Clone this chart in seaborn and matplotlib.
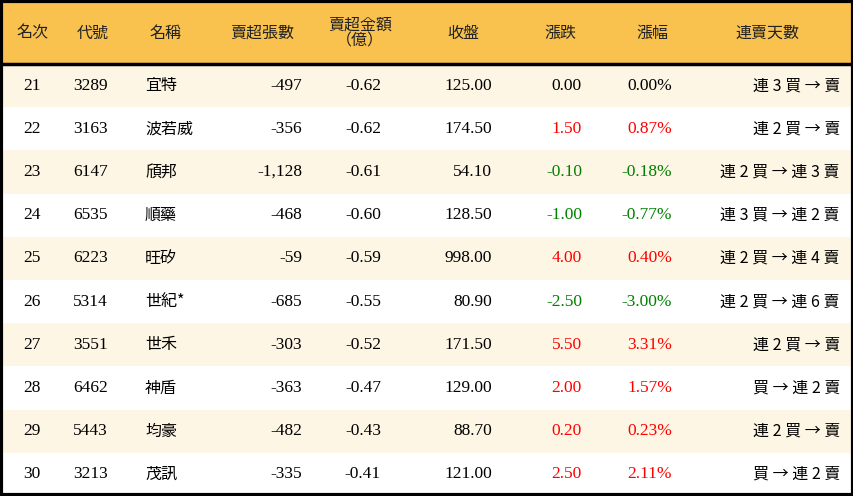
import numpy as np
import matplotlib.pyplot as plt
import seaborn as sns
from matplotlib.colors import ListedColormap
from matplotlib import font_manager

ranks = [21, 22, 23, 24, 25, 26, 27, 28, 29, 30]
codes = ["3289", "3163", "6147", "6535", "6223", "5314", "3551", "6462", "5443", "3213"]
names = ["宜特", "波若威", "頎邦", "順藥", "旺矽", "世紀*", "世禾", "神盾", "均豪", "茂訊"]
net_lots = [-497, -356, -1128, -468, -59, -685, -303, -363, -482, -335]
net_amount = [-0.62, -0.62, -0.61, -0.60, -0.59, -0.55, -0.52, -0.47, -0.43, -0.41]
close = [125.00, 174.50, 54.10, 128.50, 998.00, 80.90, 171.50, 129.00, 88.70, 121.00]
change = [0.00, 1.50, -0.10, -1.00, 4.00, -2.50, 5.50, 2.00, 0.20, 2.50]
pct = [0.00, 0.87, -0.18, -0.77, 0.40, -3.00, 3.31, 1.57, 0.23, 2.11]
streak = ["連 3 買 → 賣", "連 2 買 → 賣", "連 2 買 → 連 3 賣", "連 3 買 → 連 2 賣",
          "連 2 買 → 連 4 賣", "連 2 買 → 連 6 賣", "連 2 買 → 賣", "買 → 連 2 賣",
          "連 2 買 → 賣", "買 → 連 2 賣"]
headers = ["名次", "代號", "名稱", "賣超張數", "賣超金額\n（億）", "收盤", "漲跌", "漲幅", "連賣天數"]

W, H = 854, 496
HEAD = 64

# pick whichever CJK family matplotlib actually knows
known = {f.name for f in font_manager.fontManager.ttflist}
cands = ["Noto Sans CJK TC", "Noto Sans CJK JP", "Noto Sans CJK SC", "Noto Sans CJK KR"]
CJK = [c for c in cands if c in known] or ["DejaVu Sans"]
CJK = CJK + ["DejaVu Sans"]
NUM = "Liberation Serif"

fig = plt.figure(figsize=(W / 100, H / 100), dpi=100)

# row bands via seaborn heatmap
ax = fig.add_axes([0, 0, 1, (H - HEAD) / H])
bands = np.array([[i % 2] for i in range(len(ranks))])
sns.heatmap(bands, cmap=ListedColormap(["#FEF6E4", "#FFFFFF"]), cbar=False,
            xticklabels=False, yticklabels=False, ax=ax)
ax.set_xlim(0, 1)
ax.set_axis_off()

# overlay axes in pixel coordinates for header and text
ov = fig.add_axes([0, 0, 1, 1])
ov.set_xlim(0, W)
ov.set_ylim(H, 0)
ov.set_axis_off()
ov.patch.set_alpha(0)
ov.add_patch(plt.Rectangle((0, 0), W, HEAD, color="#F9C24F", zorder=0))
ov.plot([0, W], [HEAD, HEAD], color="black", lw=2.5)
ov.add_patch(plt.Rectangle((1, 1), W - 2, H - 2, fill=False, ec="black", lw=3))

hx = [32, 93, 165, 262, 360, 463, 560, 652, 767]
for x, h in zip(hx, headers):
    ov.text(x, 33, h, ha="center", va="center", fontsize=11.5, family=CJK,
            color="#222222", linespacing=0.95)

def col(v):
    if v > 0:
        return "#FF0000"
    if v < 0:
        return "#008000"
    return "black"

rh = (H - HEAD) / len(ranks)
for i in range(len(ranks)):
    y = HEAD + rh * (i + 0.5)
    kw = dict(va="center", fontsize=12.5)
    ov.text(32, y, str(ranks[i]), ha="center", family=NUM, **kw)
    ov.text(73, y, codes[i], ha="left", family=NUM, **kw)
    ov.text(145, y, names[i], ha="left", family=CJK, fontsize=11.5, va="center")
    ov.text(302, y, f"{net_lots[i]:,}", ha="right", family=NUM, **kw)
    ov.text(381, y, f"{net_amount[i]:.2f}", ha="right", family=NUM, **kw)
    ov.text(492, y, f"{close[i]:.2f}", ha="right", family=NUM, **kw)
    ov.text(582, y, f"{change[i]:.2f}", ha="right", family=NUM, color=col(change[i]), **kw)
    ov.text(672, y, f"{pct[i]:.2f}%", ha="right", family=NUM, color=col(pct[i]), **kw)
    ov.text(840, y, streak[i], ha="right", family=CJK, fontsize=11.5, va="center")

fig.savefig("out.png", dpi=100)
